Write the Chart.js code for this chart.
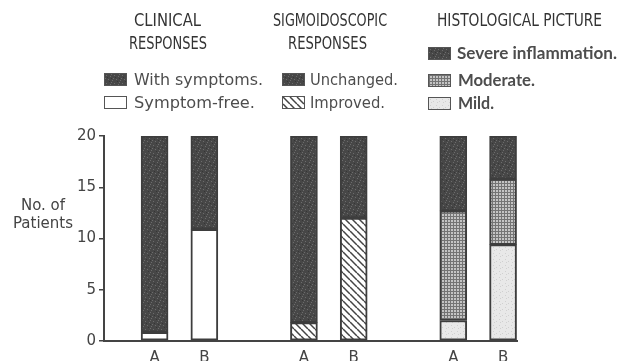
<!DOCTYPE html>
<html>
<head>
<meta charset="utf-8">
<script src="https://cdn.jsdelivr.net/npm/chart.js@4"></script>
<style>
  body { margin: 0; background: #fff; }
  #wrap { position: relative; width: 621px; height: 361px; overflow: hidden; background: #fff; }
  #chart { position: absolute; left: 0; top: 0; }
  .t { position: absolute; white-space: nowrap; color: #4a4a4a; transform-origin: 0 0; }
  .head { font: 18.5px/18.5px "Liberation Sans Narrow", "DejaVu Sans Condensed", sans-serif; color: #333; }
  .leg { font: 16px/16px "DejaVu Sans", sans-serif; color: #4d4d4d; }
  .legb { font: bold 17px/17px Lato, "DejaVu Sans", sans-serif; color: #4d4d4d; }
  .ylab { font: 15px/15px "DejaVu Sans", sans-serif; color: #444; text-align: center; width: 80px; }
  .sw { position: absolute; width: 23px; height: 13px; box-sizing: border-box; border: 1.5px solid #555; background-color: #fff; }
</style>
</head>
<body>
<div id="wrap">
  <canvas id="chart" width="621" height="361"></canvas>

  <div class="t head" style="left:134px;top:10.9px" data-w="67">CLINICAL</div>
  <div class="t head" style="left:129px;top:34.3px" data-w="78">RESPONSES</div>
  <div class="t head" style="left:273px;top:10.9px" data-w="114">SIGMOIDOSCOPIC</div>
  <div class="t head" style="left:288px;top:34.3px" data-w="79">RESPONSES</div>
  <div class="t head" style="left:437px;top:10.9px" data-w="165">HISTOLOGICAL PICTURE</div>

  <div class="sw" id="swSevere" style="left:428px;top:47px"></div>
  <div class="t legb" style="left:457px;top:44.1px" data-w="160">Severe inflammation.</div>

  <div class="sw" id="swWith" style="left:104px;top:73px"></div>
  <div class="t leg" style="left:134px;top:72.1px" data-w="129">With symptoms.</div>
  <div class="sw" id="swUnch" style="left:282px;top:73px"></div>
  <div class="t leg" style="left:310px;top:72.1px" data-w="88">Unchanged.</div>
  <div class="sw" id="swMod" style="left:428px;top:74px"></div>
  <div class="t legb" style="left:458px;top:71.1px" data-w="77">Moderate.</div>

  <div class="sw" id="swFree" style="left:104px;top:96px"></div>
  <div class="t leg" style="left:134px;top:95px" data-w="121">Symptom-free.</div>
  <div class="sw" id="swImp" style="left:282px;top:96px"></div>
  <div class="t leg" style="left:310px;top:95px" data-w="75">Improved.</div>
  <div class="sw" id="swMild" style="left:428px;top:97px"></div>
  <div class="t legb" style="left:458px;top:94px" data-w="36">Mild.</div>

  <div class="t ylab" style="left:3px;top:198.3px">No. of</div>
  <div class="t ylab" style="left:3px;top:216.3px">Patients</div>
</div>
<script>
// slots along the x axis: A/B per group, empty slot between groups
const categories = ["A", "B", "", "A", "B", "", "A", "B"];

// clinical responses
const symptomFree = [0.85, 10.9, null, null, null, null, null, null];
const withSymptoms = [19.15, 9.1, null, null, null, null, null, null];
// sigmoidoscopic responses
const improved = [null, null, null, 1.8, 12, null, null, null];
const unchanged = [null, null, null, 18.2, 8, null, null, null];
// histological picture
const mild = [null, null, null, null, null, null, 2.0, 9.4];
const moderate = [null, null, null, null, null, null, 10.7, 6.4];
const severe = [null, null, null, null, null, null, 7.3, 4.2];

const yTicks = [0, 5, 10, 15, 20];

// little pattern tiles for the printed fills
function make_tile(size, draw) {
    const c = document.createElement("canvas");
    c.width = size;
    c.height = size;
    draw(c.getContext("2d"), size);
    return c;
}

const darkTile = make_tile(8, (g) => {
    g.fillStyle = "#474747";
    g.fillRect(0, 0, 8, 8);
    g.fillStyle = "#6c6c6c";
    [[1, 1], [5, 2], [3, 5], [7, 6], [0, 4], [6, 0]].forEach(([x, y]) => g.fillRect(x, y, 1, 1));
    g.fillStyle = "#363636";
    [[2, 3], [4, 7], [6, 4]].forEach(([x, y]) => g.fillRect(x, y, 1, 1));
});
const gridTile = make_tile(3, (g) => {
    g.fillStyle = "#c4c4c4";
    g.fillRect(0, 0, 3, 3);
    g.fillStyle = "#747474";
    g.fillRect(0, 0, 3, 1);
    g.fillRect(0, 0, 1, 3);
});
const lightTile = make_tile(6, (g) => {
    g.fillStyle = "#e8e8e8";
    g.fillRect(0, 0, 6, 6);
    g.fillStyle = "#d0d0d0";
    [[1, 1], [4, 3], [2, 4]].forEach(([x, y]) => g.fillRect(x, y, 1, 1));
});
const hatchTile = make_tile(7, (g) => {
    g.fillStyle = "#ffffff";
    g.fillRect(0, 0, 7, 7);
    g.strokeStyle = "#444";
    g.lineWidth = 1.5;
    [-7, 0, 7].forEach((k) => {
        g.beginPath();
        g.moveTo(k, 0);
        g.lineTo(k + 7, 7);
        g.stroke();
    });
});

const canvas = document.getElementById("chart");
const ctx = canvas.getContext("2d");
const pat = (tile) => ctx.createPattern(tile, "repeat");

// legend swatches use the same tiles
function swatch(id, tile) {
    document.getElementById(id).style.backgroundImage = "url(" + tile.toDataURL() + ")";
}
swatch("swSevere", darkTile);
swatch("swWith", darkTile);
swatch("swUnch", darkTile);
swatch("swMod", gridTile);
swatch("swMild", lightTile);
swatch("swImp", hatchTile);

function bar_set(label, data, fill) {
    return {
        label: label,
        data: data,
        backgroundColor: fill,
        borderColor: "#3d3d3d",
        borderWidth: 2,
        borderSkipped: false,
        barThickness: 27,
    };
}

const config = {
    type: "bar",
    data: {
        labels: categories.map((_, i) => i),
        datasets: [
            bar_set("Symptom-free.", symptomFree, "#ffffff"),
            bar_set("With symptoms.", withSymptoms, pat(darkTile)),
            bar_set("Improved.", improved, pat(hatchTile)),
            bar_set("Unchanged.", unchanged, pat(darkTile)),
            bar_set("Mild.", mild, pat(lightTile)),
            bar_set("Moderate.", moderate, pat(gridTile)),
            bar_set("Severe inflammation.", severe, pat(darkTile)),
        ],
    },
    options: {
        responsive: false,
        animation: false,
        layout: { padding: { top: 136, right: 104, bottom: 0, left: 0 } },
        plugins: { legend: { display: false }, tooltip: { enabled: false } },
        scales: {
            x: {
                type: "linear",
                stacked: true,
                offset: false,
                min: -1.016,
                max: 7.28,
                grid: { display: false, drawTicks: false },
                border: { display: true, width: 2, color: "#444" },
                afterBuildTicks: (scale) => { scale.ticks = categories.map((_, i) => ({ value: i })); },
                ticks: {
                    autoSkip: false,
                    maxRotation: 0,
                    padding: 8,
                    color: "#444",
                    font: { family: "DejaVu Sans", size: 15 },
                    callback: (value) => categories[value] || "",
                },
                afterFit: (scale) => { scale.height = 20; },
            },
            y: {
                stacked: true,
                min: 0,
                max: 20,
                grid: { display: true, drawOnChartArea: false, drawTicks: true, tickLength: 5, color: "#444", lineWidth: 1.5 },
                border: { display: true, width: 2, color: "#444" },
                afterBuildTicks: (scale) => { scale.ticks = yTicks.map((v) => ({ value: v })); },
                ticks: {
                    padding: 3,
                    color: "#444",
                    font: { family: "DejaVu Sans", size: 15 },
                },
                afterFit: (scale) => { scale.width = 104; },
            },
        },
    },
};

new Chart(canvas, config);

// squeeze the printed headings to their measured widths
document.querySelectorAll(".t[data-w]").forEach((el) => {
    const w = el.getBoundingClientRect().width;
    const target = parseFloat(el.dataset.w);
    if (w > 0) el.style.transform = "scaleX(" + (target / w).toFixed(3) + ")";
});
</script>
</body>
</html>
